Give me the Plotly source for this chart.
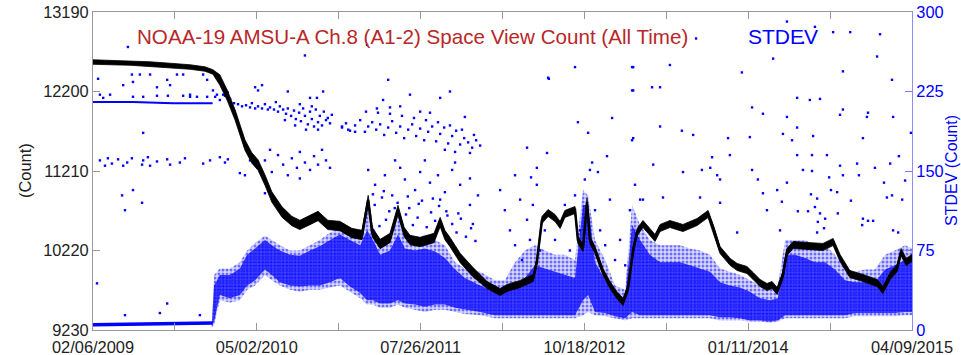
import plotly.graph_objects as go
import pandas as pd

# ---------------- data ----------------
START = "2009-02-06"
END = "2015-04-09"
x_tick_labels = ["02/06/2009", "05/02/2010", "07/26/2011", "10/18/2012", "01/11/2014", "04/09/2015"]
count_ticks = [9230, 10220, 11210, 12200, 13190]
stdev_ticks = [0, 75, 150, 225, 300]

# black: space view count (days since START), band centre and half-width
count_day = [0, 47, 102, 157, 212, 267, 308, 330, 349, 369, 391, 418, 437, 454, 473, 492,
             520, 547, 569, 597, 619, 646, 679, 712, 740, 757, 768, 790, 817, 839, 856, 872,
             900, 919, 938, 955, 968, 982, 1010, 1045, 1084, 1120, 1139, 1175, 1211, 1221, 1235, 1252,
             1271, 1285, 1298, 1326, 1334, 1348, 1359, 1367, 1381, 1403, 1422, 1441, 1458, 1472, 1486, 1497,
             1513, 1532, 1546, 1560, 1587, 1623, 1662, 1692, 1706, 1725, 1753, 1772, 1799, 1816, 1835, 1854,
             1868, 1882, 1898, 1909, 1926, 1964, 2008, 2036, 2055, 2082, 2118, 2157, 2173, 2193, 2212, 2223,
             2237, 2253]
count_mid = [12567, 12561, 12555, 12542, 12524, 12505, 12480, 12443, 12343, 12156, 11907, 11534, 11372, 11285, 11098, 10886,
             10699, 10587, 10538, 10600, 10650, 10538, 10525, 10438, 10413, 10849, 10450, 10301, 10376, 10724, 10450, 10351,
             10326, 10351, 10376, 10575, 10413, 10326, 10127, 9952, 9790, 9703, 9753, 9803, 9878, 10077, 10600, 10687,
             10625, 10538, 10675, 10724, 10351, 10251, 10824, 10351, 10226, 9952, 9790, 9666, 9579, 9753, 10226, 10450,
             10550, 10450, 10376, 10500, 10550, 10500, 10575, 10675, 10500, 10226, 10077, 10015, 9977, 9902, 9815, 9765,
             9790, 9716, 9915, 10201, 10289, 10276, 10264, 10326, 10127, 9927, 9878, 9815, 9728, 9902, 10002, 10201,
             10077, 10127]
count_halfwidth = [28] * 8 + [65] * 9 + [58] * 23 + [44] * 58

# blue: STDEV early thin lines (2009)
sd_low_day = [0, 110, 220, 329]
sd_low_val = [5, 5.5, 6, 6.5]
sd_high_day = [0, 110, 220, 329]
sd_high_val = [215, 215, 214, 214]

# blue: STDEV main cloud envelopes (outer and dense core)
sd_day = [327, 333, 349, 377, 404, 424, 446, 473, 492, 514,
          542, 569, 597, 624, 652, 679, 707, 735, 754, 770,
          790, 817, 839, 858, 886, 913, 941, 968, 996, 1023,
          1065, 1106, 1133, 1161, 1188, 1216, 1243, 1271, 1298, 1326,
          1348, 1362, 1381, 1409, 1436, 1464, 1483, 1505, 1532, 1560,
          1587, 1615, 1642, 1670, 1697, 1725, 1752, 1780, 1807, 1835,
          1862, 1884, 1904, 1931, 1959, 1986, 2014, 2041, 2069, 2096,
          2124, 2151, 2179, 2206, 2234, 2253]
sd_top = [8, 52, 58, 58, 64, 75, 82, 89, 85, 80,
          75, 75, 80, 85, 92, 96, 92, 87, 118, 99,
          80, 85, 108, 90, 85, 90, 85, 80, 64, 58,
          55, 47, 47, 64, 75, 80, 75, 71, 71, 66,
          132, 127, 85, 66, 42, 38, 118, 99, 85, 80,
          80, 80, 77, 75, 71, 58, 55, 52, 47, 42,
          38, 42, 85, 85, 85, 80, 80, 71, 58, 55,
          57, 57, 71, 75, 80, 77]
sd_bot = [2, 5, 28, 26, 28, 38, 42, 52, 47, 42,
          38, 36, 38, 38, 40, 42, 36, 30, 24, 24,
          21, 21, 24, 21, 19, 17, 19, 19, 17, 15,
          14, 11, 11, 11, 11, 11, 11, 11, 11, 11,
          14, 17, 14, 13, 11, 9, 11, 11, 11, 11,
          11, 11, 11, 11, 11, 9, 9, 9, 8, 8,
          7, 8, 11, 11, 11, 11, 11, 11, 11, 13,
          13, 13, 13, 13, 14, 14]
sd_core_top = [6, 42, 52, 52, 58, 71, 77, 85, 80, 75,
               71, 70, 75, 79, 85, 90, 85, 80, 94, 85,
               71, 75, 90, 77, 75, 77, 74, 68, 57, 49,
               42, 36, 36, 42, 49, 61, 58, 55, 52, 49,
               118, 118, 64, 47, 35, 30, 99, 85, 71, 64,
               64, 64, 61, 58, 55, 45, 42, 40, 36, 30,
               28, 30, 71, 71, 68, 64, 64, 57, 47, 45,
               45, 45, 57, 61, 66, 64]
sd_core_bot = [3, 8, 33, 30, 33, 42, 47, 57, 52, 45,
               42, 41, 42, 42, 45, 49, 41, 35, 28, 28,
               25, 25, 28, 25, 24, 22, 24, 24, 21, 19,
               17, 14, 14, 14, 14, 14, 14, 14, 14, 14,
               28, 33, 17, 16, 13, 11, 17, 14, 14, 14,
               14, 14, 14, 14, 14, 12, 12, 11, 9, 9,
               8, 9, 14, 14, 14, 14, 14, 14, 14, 16,
               16, 16, 16, 16, 17, 17]

# blue: scattered STDEV points
out_a_day = [14, 47, 83, 107, 110, 129, 157, 176, 204, 212, 231, 248, 267, 303, 314, 330, 19, 28, 110, 138,
             176, 206, 248, 267, 286, 314, 341, 358, 371]
out_a_sd = [237, 222, 231, 241, 234, 241, 241, 229, 236, 231, 241, 241, 222, 241, 236, 226, 222, 219, 220, 220,
            221, 221, 221, 220, 220, 220, 222, 222, 224]
out_b_day = [19, 33, 41, 52, 69, 83, 94, 107, 135, 138, 151, 157, 176, 204, 212, 239, 253, 303, 322, 349, 363, 371,
             138, 80, 110, 88, 135, 96, 11, 204, 184, 88, 294]
out_b_sd = [160, 155, 162, 157, 161, 155, 158, 162, 156, 160, 163, 155, 159, 161, 156, 158, 162, 157, 160, 163, 158, 161,
            186, 127, 132, 113, 120, 267, 44, 25, 16, 14, 14]
out_c_day = [399, 410, 421, 432, 437, 446, 454, 465, 473, 481, 487, 498, 509, 514, 523, 531, 536, 545, 553, 558,
             567, 572, 578, 583, 591, 597, 602, 608, 613, 619, 624, 630, 635, 641, 646, 652, 657, 569, 602, 528,
             503, 556, 619, 586, 336, 349, 363, 377, 388]
out_c_sd = [213, 211, 212, 210, 214, 209, 211, 209, 213, 208, 210, 208, 206, 211, 208, 204, 209, 202, 207, 199,
            205, 197, 209, 202, 194, 206, 199, 192, 208, 196, 202, 193, 206, 198, 200, 195, 203, 213, 211, 198,
            215, 193, 189, 189, 220, 217, 221, 218, 214]
out_d_day = [454, 473, 492, 509, 523, 536, 547, 561, 569, 583, 597, 608, 619, 630, 641, 652, 487, 569, 418, 432,
             446, 454, 465, 536, 633, 597, 616, 583, 685, 721, 702, 473, 404]
out_d_sd = [153, 160, 149, 165, 156, 146, 162, 153, 168, 158, 151, 164, 156, 170, 160, 153, 170, 143, 146, 160,
            229, 226, 231, 225, 225, 219, 219, 259, 192, 187, 189, 129, 148]
out_e_day = [685, 696, 707, 721, 735, 748, 757, 768, 779, 790, 801, 812, 823, 834, 845, 856, 867, 878, 889, 900,
             911, 922, 933, 944, 955, 966, 977, 988, 999, 1010, 1021, 1032, 1043, 1054, 1065, 1048, 1015, 982, 949, 916,
             883, 850, 817, 784, 751, 968, 996, 1037]
out_e_sd = [191, 195, 188, 193, 198, 187, 192, 196, 189, 194, 184, 191, 197, 186, 192, 181, 189, 194, 183, 190,
            179, 187, 192, 178, 185, 191, 176, 183, 188, 175, 181, 177, 172, 179, 174, 184, 189, 193, 196, 198,
            200, 202, 204, 205, 206, 170, 168, 167]
out_f_day = [798, 781, 817, 872, 927, 955, 982, 1023, 812, 754, 900, 845,
             757, 776, 803, 823, 845, 858, 886, 900, 927, 949, 968, 988, 1010, 1037, 1059, 831, 913, 996, 955, 1037]
out_f_sd = [217, 209, 210, 222, 205, 219, 225, 201, 236, 269, 206, 211,
            151, 137, 146, 127, 153, 142, 132, 149, 139, 146, 130, 151, 137, 143, 127, 160, 160, 158, 123, 118]
# 2011 points scattered just above the dense cloud
out_f2_day = [762, 775, 788, 795, 806, 815, 826, 838, 848, 861, 870, 880, 893, 905, 918, 930, 941, 952, 963, 975,
              988, 1000, 1012, 1026, 1040, 1052, 770, 800, 830, 866, 896, 935, 972, 1005, 1045]
out_f2_sd = [108, 118, 98, 125, 104, 112, 96, 120, 101, 109, 115, 99, 106, 122, 97, 111, 103, 117, 95, 108,
             100, 92, 105, 88, 96, 84, 128, 131, 115, 126, 119, 124, 112, 110, 100]
out_g_day = [1120, 1133, 1147, 1161, 1175, 1180, 1194, 1202, 1210, 1221, 1230, 1243, 1257, 1271, 1285, 1298,
             1312, 1326, 1340, 1353, 1367, 1381, 1395, 1409, 1422, 1436, 1450, 1464, 1477, 1491, 1505,
             1326, 1252, 1334, 1428, 1362, 1194, 1249, 1483, 1483, 1483, 1373, 1389, 1414, 1161, 1205, 1221, 1254]
out_g_sd = [132, 113, 94, 80, 123, 66, 104, 85, 118, 137, 75, 94, 108, 85, 99, 118,
            75, 127, 94, 142, 151, 113, 94, 80, 123, 66, 85, 61, 113, 137, 123,
            248, 238, 196, 200, 186, 172, 167, 248, 226, 179, 158, 149, 164, 146, 144, 153, 237]
out_h_day = [1486, 1587, 1486, 1538, 1560, 1486, 1560, 1620, 1651, 1785, 1813, 1843, 1747, 1703, 1752, 1541,
             1623, 1675, 1698, 1717, 1725, 1807, 1813, 1829, 1843, 1854, 1725, 1670, 1568, 1513, 1772, 1659, 1871]
out_h_sd = [248, 250, 226, 229, 229, 181, 192, 188, 184, 243, 210, 204, 181, 163, 165, 156,
            149, 151, 153, 146, 142, 182, 151, 142, 129, 113, 120, 125, 125, 123, 92, 275, 256]
out_i_day = [1909, 1953, 1986, 2036, 2083, 2165, 2157, 2063, 2198, 1937, 1972, 2000, 2063, 2055, 2129, 2132,
             2201, 2250, 2118, 1981, 1937, 1923, 1909, 1898, 1937, 1978, 2019, 1978, 2055, 2102, 2151, 2193,
             2217, 2063, 2107, 1953, 2025, 2234, 2176, 1909, 1882, 1895, 1975, 1992, 2030, 2047, 2085, 2184,
             2198, 2226, 1939, 1967, 1986, 2000, 2049, 2014, 1994, 2118, 2132, 2146, 2116, 2011, 1992, 2201,
             2215, 1890]
out_i_sd = [291, 271, 286, 281, 281, 279, 258, 244, 236, 219, 217, 218, 208, 203, 201, 205,
            201, 186, 181, 183, 191, 179, 201, 185, 165, 165, 165, 150, 155, 157, 153, 157,
            164, 146, 146, 151, 144, 141, 139, 139, 132, 121, 128, 124, 132, 130, 122, 125,
            127, 123, 112, 112, 116, 110, 110, 105, 102, 105, 103, 103, 99, 96, 92, 94,
            92, 94]

# ---------------- figure ----------------
t0 = pd.Timestamp(START)
t1 = pd.Timestamp(END)


def dates(days):
    return [t0 + pd.Timedelta(days=d) for d in days]


def band(days, hi, lo):
    d = dates(days)
    return d + d[::-1], list(hi) + list(lo)[::-1]


BLUE = "#0000ff"
FONT = "Liberation Sans, Arial, Helvetica, sans-serif"

fig = go.Figure()

# STDEV traces on base axis 'y' (right side)
bx, by = band(sd_day, sd_top, sd_bot)
fig.add_trace(go.Scatter(x=bx, y=by, fill="toself", mode="lines", line=dict(width=0),
                         fillcolor="rgba(0,0,0,0)",
                         fillpattern=dict(shape=".", fgcolor=BLUE, bgcolor="rgba(0,0,255,0.15)",
                                          size=4, solidity=0.45, fillmode="overlay"),
                         hoverinfo="skip", yaxis="y"))
cx, cy = band(sd_day, sd_core_top, sd_core_bot)
fig.add_trace(go.Scatter(x=cx, y=cy, fill="toself", mode="lines", line=dict(width=0),
                         fillcolor="rgba(0,0,0,0)",
                         fillpattern=dict(shape=".", fgcolor=BLUE, bgcolor="rgba(20,20,255,0.72)",
                                          size=3, solidity=0.55, fillmode="overlay"),
                         hoverinfo="skip", yaxis="y"))
fig.add_trace(go.Scatter(x=dates(sd_low_day), y=sd_low_val, mode="lines",
                         line=dict(color=BLUE, width=3.5), yaxis="y"))
fig.add_trace(go.Scatter(x=dates(sd_high_day), y=sd_high_val, mode="lines",
                         line=dict(color=BLUE, width=2), yaxis="y"))
all_day = (out_a_day + out_b_day + out_c_day + out_d_day + out_e_day + out_f_day + out_f2_day
           + out_g_day + out_h_day + out_i_day)
all_sd = (out_a_sd + out_b_sd + out_c_sd + out_d_sd + out_e_sd + out_f_sd + out_f2_sd
          + out_g_sd + out_h_sd + out_i_sd)
fig.add_trace(go.Scatter(x=dates(all_day), y=all_sd, mode="markers",
                         marker=dict(color=BLUE, size=2.4, symbol="square", line=dict(width=0)), yaxis="y"))

# Count on overlay axis 'y2' (left side), drawn on top
hi = [m + h for m, h in zip(count_mid, count_halfwidth)]
lo = [m - h for m, h in zip(count_mid, count_halfwidth)]
kx, ky = band(count_day, hi, lo)
fig.add_trace(go.Scatter(x=kx, y=ky, fill="toself", mode="lines", line=dict(width=0.8, color="black"),
                         fillcolor="black", hoverinfo="skip", yaxis="y2"))
fig.add_trace(go.Scatter(x=dates(count_day), y=count_mid, mode="lines",
                         line=dict(color="black", width=2.5), yaxis="y2"))

span = t1 - t0
xtickvals = [t0 + span * k / 10 for k in range(11)]
xticktext = []
for k in range(11):
    xticktext.append(x_tick_labels[k // 2] if k % 2 == 0 else "")

fig.update_layout(
    width=961, height=355,
    margin=dict(l=93, r=49, t=12, b=25, autoexpand=False),
    paper_bgcolor="white", plot_bgcolor="white",
    showlegend=False,
    font=dict(family=FONT, size=16.4, color="#222"),
    xaxis=dict(type="date", range=[t0, t1], tickvals=xtickvals, ticktext=xticktext,
               ticks="inside", ticklen=7, tickcolor="#999", showline=True, linecolor="#999",
               linewidth=1, mirror="ticks", showgrid=False, zeroline=False, automargin=False,
               ticklabelstandoff=2, tickfont=dict(size=16.4, color="#222")),
    yaxis=dict(side="right", range=[0, 300], tickvals=stdev_ticks,
               ticktext=[str(v) for v in stdev_ticks], ticks="inside", ticklen=7,
               tickcolor="rgb(120,120,255)", showline=True, linecolor="rgb(140,140,255)",
               showgrid=False, zeroline=False, automargin=False, tickfont=dict(size=16.4, color=BLUE)),
    yaxis2=dict(side="left", overlaying="y", range=[9230, 13190], tickvals=count_ticks,
                ticktext=[str(v) for v in count_ticks],
                ticks="inside", ticklen=7, tickcolor="#999", showline=True, linecolor="#999",
                showgrid=False, zeroline=False, automargin=False, tickfont=dict(size=16.4, color="#222")),
)

fig.add_annotation(text="NOAA-19 AMSU-A Ch.8 (A1-2) Space View Count (All Time)",
                   xref="paper", yref="paper", x=0.3895, y=0.9245, xanchor="center", yanchor="middle",
                   showarrow=False, font=dict(family=FONT, size=20.6, color="#b82828"))
fig.add_annotation(text="STDEV", xref="paper", yref="paper", x=0.843, y=0.9245,
                   xanchor="center", yanchor="middle", showarrow=False,
                   font=dict(family=FONT, size=21, color=BLUE))
fig.add_annotation(text="(Count)", xref="paper", yref="paper", x=(25 - 93) / 819, y=0.5,
                   xanchor="center", yanchor="middle", textangle=-90, showarrow=False,
                   font=dict(family=FONT, size=16.4, color="#222"))
fig.add_annotation(text="STDEV (Count)", xref="paper", yref="paper", x=(951 - 93) / 819, y=0.5,
                   xanchor="center", yanchor="middle", textangle=-90, showarrow=False,
                   font=dict(family=FONT, size=16, color=BLUE))

fig.write_html("out.html")
